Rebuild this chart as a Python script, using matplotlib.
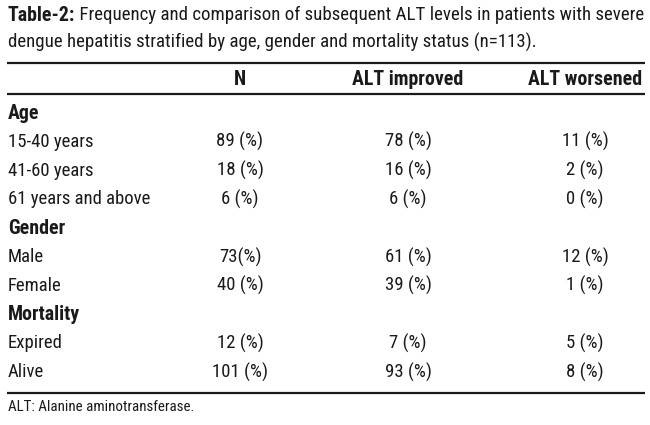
import matplotlib
matplotlib.use("Agg")
import matplotlib.pyplot as plt
from matplotlib import font_manager as fm

# ---- data ----
title_bold = "Table-2:"
title_line1 = " Frequency and comparison of subsequent ALT levels in patients with severe"
title_line2 = "dengue hepatitis stratified by age, gender and mortality status (n=113)."
col_headers = ["N", "ALT improved", "ALT worsened"]
groups = ["Age", "Gender", "Mortality"]
subgroups = [["15-40 years", "41-60 years", "61 years and above"],
             ["Male", "Female"],
             ["Expired", "Alive"]]
n_vals = ["89 (%)", "18 (%)", "6 (%)", "73(%)", "40 (%)", "12 (%)", "101 (%)"]
improved_vals = ["78 (%)", "16 (%)", "6 (%)", "61 (%)", "39 (%)", "7 (%)", "93 (%)"]
worsened_vals = ["11 (%)", "2 (%)", "0 (%)", "12 (%)", "1 (%)", "5 (%)", "8 (%)"]
footnote = "ALT: Alanine aminotransferase."

# ---- font selection ----
entries = fm.fontManager.ttflist
names = {f.name for f in entries}
family = "DejaVu Sans"
stretch = "normal"
for cand in ["Roboto Condensed", "Liberation Sans Narrow", "Open Sans Condensed"]:
    if cand in names:
        family = cand
        break
else:
    if any(f.name == "DejaVu Sans" and f.stretch == "condensed" for f in entries):
        stretch = "condensed"

FS = 13.5
FS_BOLD = 14.3
fig = plt.figure(figsize=(6.5, 4.25), dpi=100)
ax = fig.add_axes([0, 0, 1, 1])
ax.set_xlim(0, 650)
ax.set_ylim(425, 0)
ax.axis("off")

def txt(x, y, s, ha="left", weight="normal", size=FS):
    return ax.text(x, y, s, ha=ha, va="center", fontsize=size, family=family,
                   fontstretch=stretch, fontweight=weight, color="#1a1a1a")

# title
x0 = 8
t = txt(x0, 15, title_bold, weight="bold", size=14.3)
fig.canvas.draw()
bb = t.get_window_extent(fig.canvas.get_renderer())
inv = ax.transData.inverted()
xend = inv.transform((bb.x1, bb.y0))[0]
txt(xend, 15, title_line1, size=13.6)
txt(x0, 42, title_line2, size=13.6)

# rules
ax.hlines([63, 393], 7, 645, color="#1a1a1a", linewidth=1.6)
ax.hlines([94], 7, 645, color="#1a1a1a", linewidth=1.6)

# headers
col_x = [240, 408, 585]
for cx, h in zip(col_x, col_headers):
    txt(cx, 79, h, ha="center", weight="bold", size=FS_BOLD)

# rows
y = 113
step = 28.8
k = 0
for g, subs in zip(groups, subgroups):
    txt(8, y, g, weight="bold", size=FS_BOLD)
    y += step
    for s in subs:
        txt(8, y, s)
        txt(col_x[0], y, n_vals[k], ha="center")
        txt(col_x[1], y, improved_vals[k], ha="center")
        txt(col_x[2], y, worsened_vals[k], ha="center")
        k += 1
        y += step

txt(8, 407, footnote, size=10.8)

fig.savefig("out.png", dpi=100)
